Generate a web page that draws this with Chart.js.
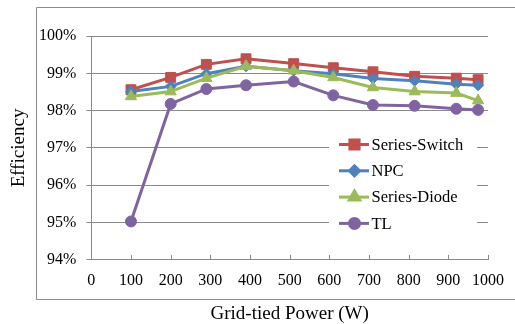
<!DOCTYPE html>
<html>
<head>
<meta charset="utf-8">
<script src="https://cdn.jsdelivr.net/npm/chart.js@4/dist/chart.umd.min.js"></script>
<style>
  html, body { margin: 0; padding: 0; background: #fff; }
  #wrap { width: 515px; height: 324px; }
</style>
</head>
<body>
<div id="wrap"><canvas id="eff"></canvas></div>
<script>
// grid-tied power (W) for each measurement
const powers = [100, 200, 290, 390, 510, 610, 710, 815, 920, 975];

// efficiency (%)
const seriesSwitch = [98.56, 98.89, 99.24, 99.39, 99.26, 99.15, 99.04, 98.92, 98.87, 98.83];
const npc          = [98.51, 98.65, 98.99, 99.19, 99.07, 98.99, 98.86, 98.80, 98.71, 98.68];
const seriesDiode  = [98.38, 98.51, 98.87, 99.19, 99.07, 98.89, 98.62, 98.51, 98.47, 98.27];
const tl           = [95.03, 98.18, 98.58, 98.68, 98.78, 98.41, 98.15, 98.13, 98.05, 98.02];

const seriesNames = ["Series-Switch", "NPC", "Series-Diode", "TL"];
const xTicks = [0, 100, 200, 300, 400, 500, 600, 700, 800, 900, 1000];
const yTicks = [94, 95, 96, 97, 98, 99, 100];

const toPoints = (vals) => vals.map((v, i) => ({ x: powers[i], y: v }));

const gridGray = "#8a8a8a";
const font = "'Liberation Serif', 'Times New Roman', serif";

const makeSet = (label, data, color, style, radius, order) => ({
    label: label,
    data: toPoints(data),
    borderColor: color,
    backgroundColor: color,
    borderWidth: 3,
    pointStyle: style,
    pointRadius: radius,
    pointBorderWidth: 1,
    pointBorderColor: color,
    order: order,
});

// white box + legend inside the plot, like the excel one
const insideLegend = {
    id: "insideLegend",
    beforeDatasetsDraw(chart) {
        const ctx = chart.ctx;
        ctx.save();
        ctx.fillStyle = "#fff";
        ctx.fillRect(329, 128, 148, 110);
        ctx.restore();
    },
    afterDraw(chart) {
        const ctx = chart.ctx;
        ctx.save();
        chart.data.datasets.forEach((ds, i) => {
            const y = 144.5 + i * 26.3;
            ctx.strokeStyle = ds.borderColor;
            ctx.lineWidth = 3;
            ctx.beginPath();
            ctx.moveTo(339, y);
            ctx.lineTo(369, y);
            ctx.stroke();
            ctx.fillStyle = ds.backgroundColor;
            Chart.helpers.drawPoint(ctx, {
                pointStyle: ds.pointStyle,
                radius: ds.pointRadius - 0.5,
                rotation: 0,
                borderWidth: 1,
            }, 354.5, y);
            ctx.fillStyle = "#000";
            ctx.font = "16.5px " + font;
            ctx.textBaseline = "middle";
            ctx.fillText(ds.label, 371.5, y + 1);
        });

        // x tick marks point into the plot
        const xs = chart.scales.x;
        const bottom = chart.chartArea.bottom;
        ctx.strokeStyle = gridGray;
        ctx.lineWidth = 1;
        xTicks.forEach(t => {
            const px = Math.round(xs.getPixelForValue(t)) + 0.5;
            ctx.beginPath();
            ctx.moveTo(px, bottom);
            ctx.lineTo(px, bottom - 5);
            ctx.stroke();
        });

        // outer frame
        ctx.strokeStyle = "#8c8c8c";
        ctx.beginPath();
        ctx.moveTo(515, 7.5);
        ctx.lineTo(36.5, 7.5);
        ctx.lineTo(36.5, 299.5);
        ctx.lineTo(515, 299.5);
        ctx.stroke();
        ctx.restore();
    }
};

new Chart(document.getElementById("eff"), {
    type: "line",
    data: {
        datasets: [
            makeSet(seriesNames[0], seriesSwitch, "#C0504D", "rect", 7, 4),
            makeSet(seriesNames[1], npc, "#4F81BD", "rectRot", 5.5, 3),
            makeSet(seriesNames[2], seriesDiode, "#9BBB59", "triangle", 6.5, 2),
            makeSet(seriesNames[3], tl, "#8064A2", "circle", 5.5, 1),
        ],
    },
    options: {
        responsive: true,
        maintainAspectRatio: false,
        animation: false,
        layout: { padding: { top: 36, right: 4, left: 10, bottom: 0 } },
        plugins: {
            legend: { display: false },
            tooltip: { enabled: false },
        },
        scales: {
            x: {
                type: "linear",
                min: 0,
                max: 1000,
                afterBuildTicks: (axis) => { axis.ticks = xTicks.map(v => ({ value: v })); },
                grid: { display: false, drawTicks: false },
                border: { display: true, color: gridGray, width: 1 },
                ticks: {
                    color: "#000",
                    font: { family: font, size: 16 },
                    padding: 11,
                    maxRotation: 0,
                    callback: (v) => String(v),
                },
                title: {
                    display: true,
                    text: "Grid-tied Power (W)",
                    color: "#000",
                    font: { family: font, size: 19, lineHeight: 1.1 },
                    padding: { top: 2, bottom: 0 },
                },
            },
            y: {
                min: 94,
                max: 100,
                afterBuildTicks: (axis) => { axis.ticks = yTicks.map(v => ({ value: v })); },
                grid: { color: gridGray, lineWidth: 1, tickLength: 5 },
                border: { display: true, color: gridGray, width: 1 },
                ticks: {
                    color: "#000",
                    font: { family: font, size: 16 },
                    padding: 10,
                    callback: (v) => v + "%",
                },
                title: {
                    display: true,
                    text: "Efficiency",
                    color: "#000",
                    font: { family: font, size: 19, lineHeight: 1.0 },
                    padding: { top: 0, bottom: 0 },
                },
            },
        },
    },
    plugins: [insideLegend],
});
</script>
</body>
</html>
